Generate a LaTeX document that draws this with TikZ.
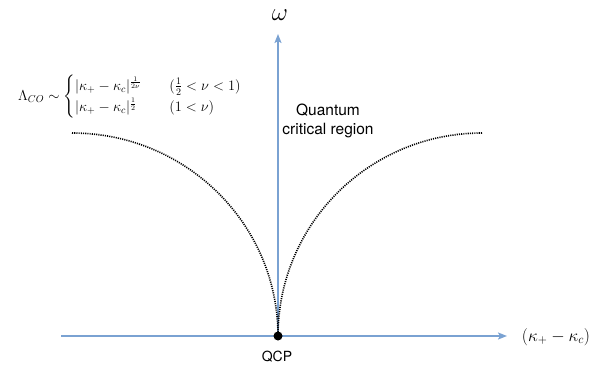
\documentclass[tikz,border=0pt]{standalone}
\usepackage{amsmath}
\usepackage{fontspec}
\setsansfont{TeX Gyre Heros}
\usetikzlibrary{arrows.meta}
\definecolor{axisblue}{RGB}{122,162,210}
\tikzset{
  axis/.style={draw=axisblue, line width=2pt, -{Stealth[length=9pt,width=7pt,inset=2pt]}},
  dotcurve/.style={draw=black, line width=1.6pt, dash pattern=on 1.1pt off 1.1pt},
  lbl/.style={font=\sffamily\fontsize{14}{18}\selectfont, align=center, inner sep=0pt},
}
\begin{document}
\begin{tikzpicture}[x=1pt,y=-1pt]
\useasboundingbox (0,0) rectangle (600,367);
\coordinate (xs) at (61,336);
\coordinate (xe) at (507,336);
\coordinate (ye) at (278,34);
\coordinate (o) at (278,336);
\draw[axis] (xs) -- (xe);
\draw[axis] (o) -- (ye);
\coordinate (ls) at (72,133);
\coordinate (rs) at (482,133);
\draw[dotcurve] (ls) arc[start angle=90, end angle=0, x radius=206, y radius=-203];
\draw[dotcurve] (rs) arc[start angle=90, end angle=180, x radius=204, y radius=-203];
\node[circle, fill=black, inner sep=0pt, minimum size=9pt] (qcp) at (o) {};
\node[inner sep=0pt] (omega) at (280,15) {\fontsize{23}{27}\selectfont$\omega$};
\node[lbl] (qcplbl) at (277,357) {QCP};
\node[inner sep=0pt] (xlbl) at (556,337) {\fontsize{18}{22}\selectfont$(\kappa_+-\kappa_c)$};
\node[lbl, font=\sffamily\fontsize{15.5}{19.5}\selectfont] (qcr) at (328,121) {Quantum\\critical region};
\node[inner sep=0pt] (lam) at (130,97) {\fontsize{14}{17}\selectfont$\Lambda_{CO}\sim\begin{cases}|\kappa_+-\kappa_c|^{\frac{1}{2\nu}} & \quad(\frac{1}{2}<\nu<1)\\[1pt] |\kappa_+-\kappa_c|^{\frac{1}{2}} & \quad(1<\nu)\end{cases}$};
\end{tikzpicture}
\end{document}
